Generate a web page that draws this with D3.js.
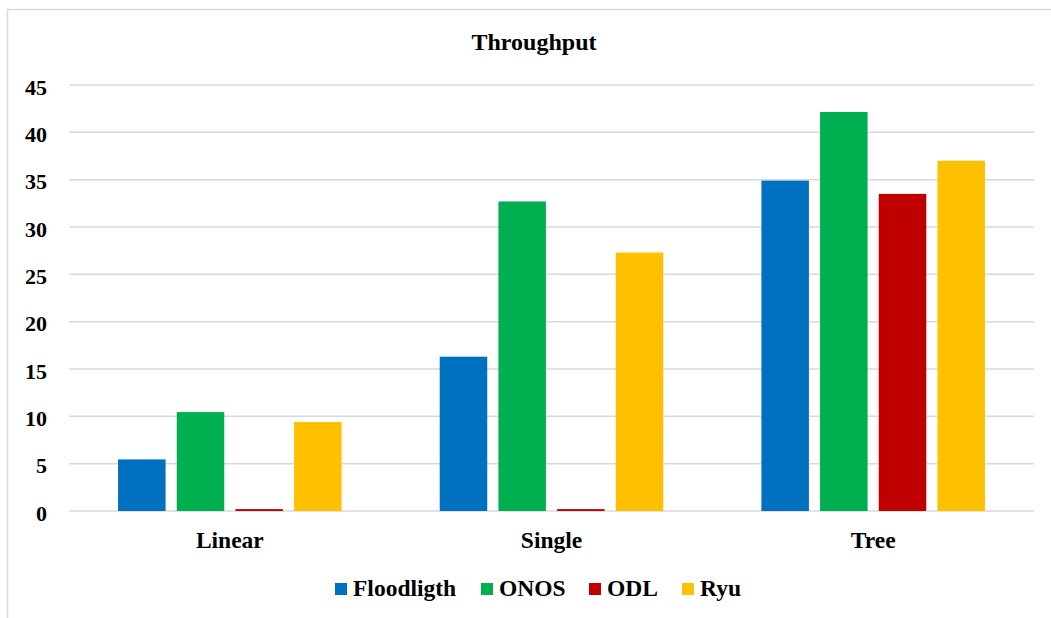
<!DOCTYPE html>
<html>
<head>
<meta charset="UTF-8">
<script src="https://cdn.jsdelivr.net/npm/d3@7"></script>
<style>
  body { margin: 0; background: #fff; }
  text { font-family: "Liberation Serif", "Times New Roman", serif; font-weight: bold; fill: #000; }
</style>
</head>
<body>
<div id="chart"></div>
<script>
// data
const categories = ["Linear", "Single", "Tree"];
const seriesNames = ["Floodligth", "ONOS", "ODL", "Ryu"];
const floodligth = [5.45, 16.3, 34.9];
const onos = [10.45, 32.7, 42.15];
const odl = [0.2, 0.2, 33.5];
const ryu = [9.4, 27.3, 37.0];
const yTicks = [0, 5, 10, 15, 20, 25, 30, 35, 40, 45];
const colors = ["#0070C0", "#00B050", "#C00000", "#FFC000"];

const allSeries = [floodligth, onos, odl, ryu];
const width = 1051, height = 618;
const plot = { left: 69, right: 1034, top: 85, bottom: 511 };

const svg = d3.select("#chart").append("svg")
  .attr("width", width).attr("height", height);

// chart border (only left/top visible in the crop)
svg.append("rect")
  .attr("x", 7.5).attr("y", 9.5)
  .attr("width", width + 20).attr("height", height + 20)
  .attr("fill", "none").attr("stroke", "#d9d9d9").attr("stroke-width", 1.5);

const x0 = d3.scaleBand().domain(categories)
  .range([plot.left, plot.right])
  .paddingInner(0.305).paddingOuter(0.1525);
const x1 = d3.scaleBand().domain(seriesNames)
  .range([0, x0.bandwidth()])
  .paddingInner(0.19);
const y = d3.scaleLinear().domain([0, 45]).range([plot.bottom, plot.top]);

// gridlines
svg.append("g").selectAll("line").data(yTicks).join("line")
  .attr("x1", plot.left).attr("x2", plot.right)
  .attr("y1", d => y(d)).attr("y2", d => y(d))
  .attr("stroke", "#d9d9d9").attr("stroke-width", 1.5);

// y axis labels
const yAxis = d3.axisLeft(y).tickValues(yTicks).tickSize(0).tickPadding(0);
const gy = svg.append("g").attr("transform", "translate(47,2)").call(yAxis);
gy.select(".domain").remove();
gy.selectAll("text").style("font-size", "22px").attr("font-family", null);

// bars
const groups = svg.append("g").selectAll("g").data(categories).join("g")
  .attr("transform", d => `translate(${x0(d)},0)`);
groups.selectAll("rect")
  .data((c, ci) => seriesNames.map((s, si) => ({ s, si, v: allSeries[si][ci] })))
  .join("rect")
  .attr("x", d => x1(d.s))
  .attr("width", x1.bandwidth())
  .attr("y", d => y(d.v))
  .attr("height", d => y(0) - y(d.v))
  .attr("fill", d => colors[d.si]);

// x axis labels
const xAxis = d3.axisBottom(x0).tickSize(0).tickPadding(0);
const gx = svg.append("g").attr("transform", "translate(0,531)").call(xAxis);
gx.select(".domain").remove();
gx.selectAll("text").style("font-size", "23.5px").attr("font-family", null).attr("dy", "0.72em");

// title
svg.append("text")
  .attr("x", 534).attr("y", 50)
  .attr("text-anchor", "middle")
  .style("font-size", "24px")
  .text("Throughput");

// legend
const legendX = [335, 481, 589, 682];
const legend = svg.append("g").selectAll("g").data(seriesNames).join("g")
  .attr("transform", (d, i) => `translate(${legendX[i]},583)`);
legend.append("rect").attr("width", 12).attr("height", 12)
  .attr("fill", (d, i) => colors[i]);
legend.append("text").attr("x", 18).attr("y", 13)
  .style("font-size", "23.5px")
  .text(d => d);
</script>
</body>
</html>
